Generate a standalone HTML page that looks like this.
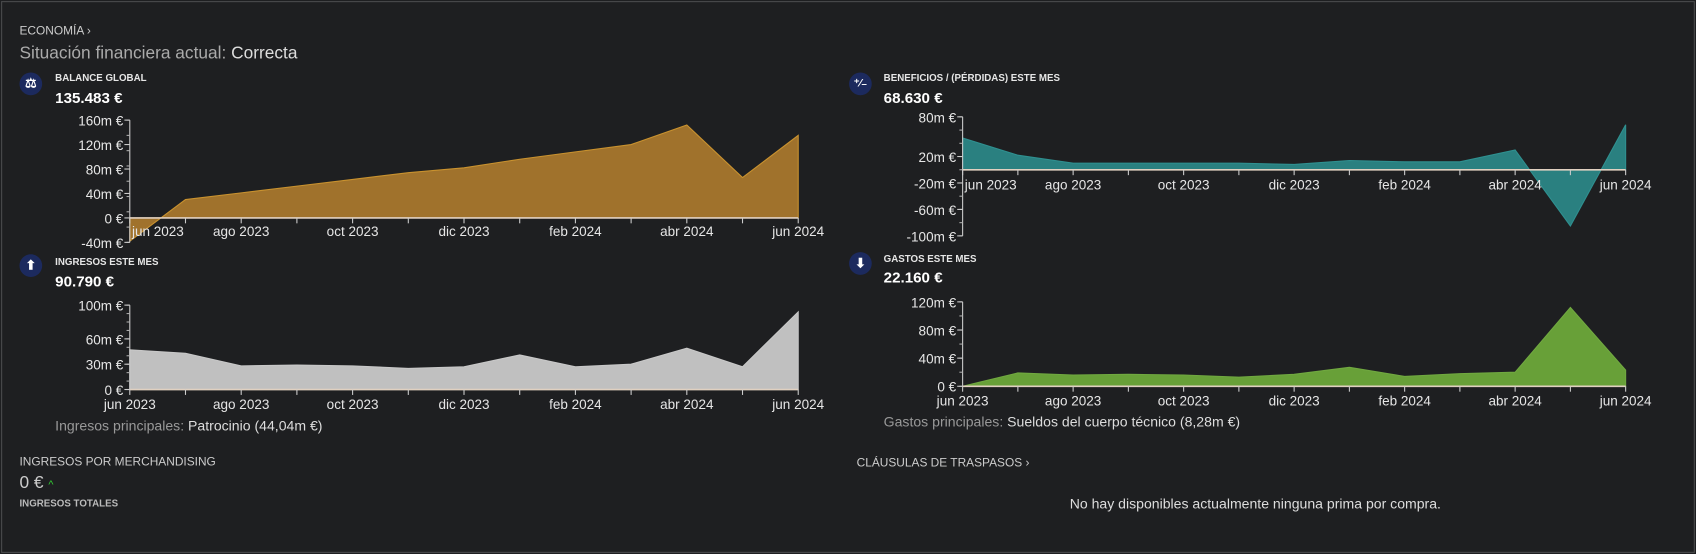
<!DOCTYPE html>
<html><head><meta charset="utf-8">
<style>
html,body{margin:0;padding:0;background:#1e1f21;width:1696px;height:554px;overflow:hidden}
#wrap{position:absolute;left:0;top:0;width:1568px;height:512px;transform:scale(1.0816,1.082);transform-origin:0 0;font-family:"Liberation Sans Narrow","Liberation Sans",sans-serif;color:#ddd}
#frame{position:absolute;left:1px;top:1px;width:1564px;height:508px;border:1px solid #4a4b4d}
.t{position:absolute;white-space:nowrap}
.ic{position:absolute;width:21px;height:21px;border-radius:50%;background:#1c2a5e;color:#fff;font-size:12px;font-weight:bold;text-align:center;line-height:21px}
.ttl{font-size:9px;font-weight:bold;color:#e6e6e6}
.val{font-size:14px;font-weight:bold;color:#fff}
svg{position:absolute;left:0;top:0}
</style></head><body>
<div id="wrap">
<div id="frame"></div>
<div class="t" style="left:18px;top:23px;font-size:11px;color:#ccc">ECONOMÍA ›</div>
<div class="t" style="left:18px;top:41px;font-size:16px;color:#aaa">Situación financiera actual: <span style="color:#ddd">Correcta</span></div>

<div class="ic" style="left:18px;top:67px">⚖</div>
<div class="t ttl" style="left:51px;top:67px">BALANCE GLOBAL</div>
<div class="t val" style="left:51px;top:82px">135.483 €</div>

<div class="ic" style="left:785px;top:67px;font-size:10px">⁺⁄₋</div>
<div class="t ttl" style="left:817px;top:67px">BENEFICIOS / (PÉRDIDAS) ESTE MES</div>
<div class="t val" style="left:817px;top:82px">68.630 €</div>

<div class="ic" style="left:18px;top:235px">⬆</div>
<div class="t ttl" style="left:51px;top:237px">INGRESOS ESTE MES</div>
<div class="t val" style="left:51px;top:252px">90.790 €</div>

<div class="ic" style="left:785px;top:233px">⬇</div>
<div class="t ttl" style="left:817px;top:234px">GASTOS ESTE MES</div>
<div class="t val" style="left:817px;top:248px">22.160 €</div>

<div class="t" style="left:51px;top:386px;font-size:13px;color:#999">Ingresos principales: <span style="color:#ddd">Patrocinio (44,04m €)</span></div>
<div class="t" style="left:817px;top:382px;font-size:13px;color:#999">Gastos principales: <span style="color:#ddd">Sueldos del cuerpo técnico (8,28m €)</span></div>

<div class="t" style="left:18px;top:421px;font-size:11px;color:#ccc">INGRESOS POR MERCHANDISING</div>
<div class="t" style="left:18px;top:438px;font-size:16px;color:#ccc">0 € <span style="color:#3c3;font-size:10px">^</span></div>
<div class="t" style="left:18px;top:460px;font-size:9px;font-weight:bold;color:#bbb">INGRESOS TOTALES</div>

<div class="t" style="left:792px;top:422px;font-size:11px;color:#ccc">CLÁUSULAS DE TRASPASOS ›</div>
<div class="t" style="left:989px;top:458px;font-size:13px;color:#ddd">No hay disponibles actualmente ninguna prima por compra.</div>

<svg id="charts" width="1568" height="512"></svg>
</div>
<script>
const months = ["jun 2023","jul 2023","ago 2023","sep 2023","oct 2023","nov 2023","dic 2023","ene 2024","feb 2024","mar 2024","abr 2024","may 2024","jun 2024"];
const balanceValues = [-38,30,41,52,63,74,82,96,108,120,152,66,135];
const balanceTicks = [-40,0,40,80,120,160];
const profitValues = [48,22,10,10,10,10,8,14,12,12,30,-85,68];
const profitTicks = [-100,-60,-20,20,80];
const incomeValues = [47,43,28,29,28,25,27,41,27,30,49,27,92];
const incomeTicks = [0,30,60,100];
const expenseValues = [0,19,16,17,16,13,17,27,14,18,20,112,23];
const expenseTicks = [0,40,80,120];

const NS="http://www.w3.org/2000/svg";
const svg=document.getElementById('charts');
function mk(tag,attrs,parent){const e=document.createElementNS(NS,tag);for(const k in attrs)e.setAttribute(k,attrs[k]);(parent||svg).appendChild(e);return e;}
function fmt(v){return v===0?"0 €":v+"m €";}

function chart(name,cfg,values,ticks){
  const g=mk('g',{});
  
  
  const xs=i=>cfg.x0+(cfg.x1-cfg.x0)*i/(months.length-1);
  const ys=v=>cfg.yb+(cfg.ytop-cfg.yb)*(v-cfg.vb)/(cfg.vtop-cfg.vb);
  let d="M"+xs(0)+","+ys(0);
  values.forEach((v,i)=>{d+=" L"+xs(i)+","+ys(v);});
  d+=" L"+xs(values.length-1)+","+ys(0)+" Z";
  const area=mk('path',{d:d,fill:cfg.fill,stroke:cfg.stroke,'stroke-width':1},g);
  
  
  mk('line',{x1:cfg.x0,y1:ys(cfg.vtop),x2:cfg.x0,y2:ys(cfg.vb),stroke:'#ccc','stroke-width':1},g);
  const step=(cfg.vtop-cfg.vb)/cfg.minor;
  for(let k=0;k<=cfg.minor;k++){const y=ys(cfg.vb+step*k);mk('line',{x1:cfg.x0-3,y1:y,x2:cfg.x0,y2:y,stroke:'#aaa'},g);}
  ticks.forEach(t=>{
    const y=ys(t);
    mk('line',{x1:cfg.x0-5,y1:y,x2:cfg.x0,y2:y,stroke:'#ccc'},g);
    const tx=mk('text',{x:cfg.x0-6,y:y+5,'text-anchor':'end','font-size':12.5,fill:'#e6e6e6'},g);
    tx.textContent=fmt(t);
    
    
  });
  const y0=ys(0);
  mk('line',{x1:cfg.x0,y1:y0,x2:cfg.x1,y2:y0,stroke:'#e0d0c0','stroke-width':1.5},g);
  months.forEach((m,i)=>{
    const x=xs(i);
    mk('line',{x1:x,y1:y0,x2:x,y2:y0+5,stroke:'#ccc'},g);
    if(i%2===0){
      const shift=(i===0?cfg.firstShift:0);
      const tx=mk('text',{x:x+shift,y:cfg.ly,'text-anchor':'middle','font-size':12.5,fill:'#e6e6e6'},g);
      tx.textContent=m;
      
      
    }
  });
}
chart('balance-chart',{x0:120,x1:738,vtop:160,ytop:111,vb:-40,yb:224,minor:8,fill:'#a0722c',stroke:'#c9922f',ly:218,firstShift:26},balanceValues,balanceTicks);
chart('profit-chart',{x0:890,x1:1503,vtop:80,ytop:108,vb:-100,yb:218,minor:9,fill:'#2a8080',stroke:'#2f9090',ly:175,firstShift:26},profitValues,profitTicks);
chart('income-chart',{x0:120,x1:738,vtop:100,ytop:282,vb:0,yb:360,minor:10,fill:'#c0c0c0',stroke:'#c8c8c8',ly:378,firstShift:0},incomeValues,incomeTicks);
chart('expenses-chart',{x0:890,x1:1503,vtop:120,ytop:279,vb:0,yb:357,minor:6,fill:'#68a038',stroke:'#70a840',ly:375,firstShift:0},expenseValues,expenseTicks);
</script>
</body></html>
